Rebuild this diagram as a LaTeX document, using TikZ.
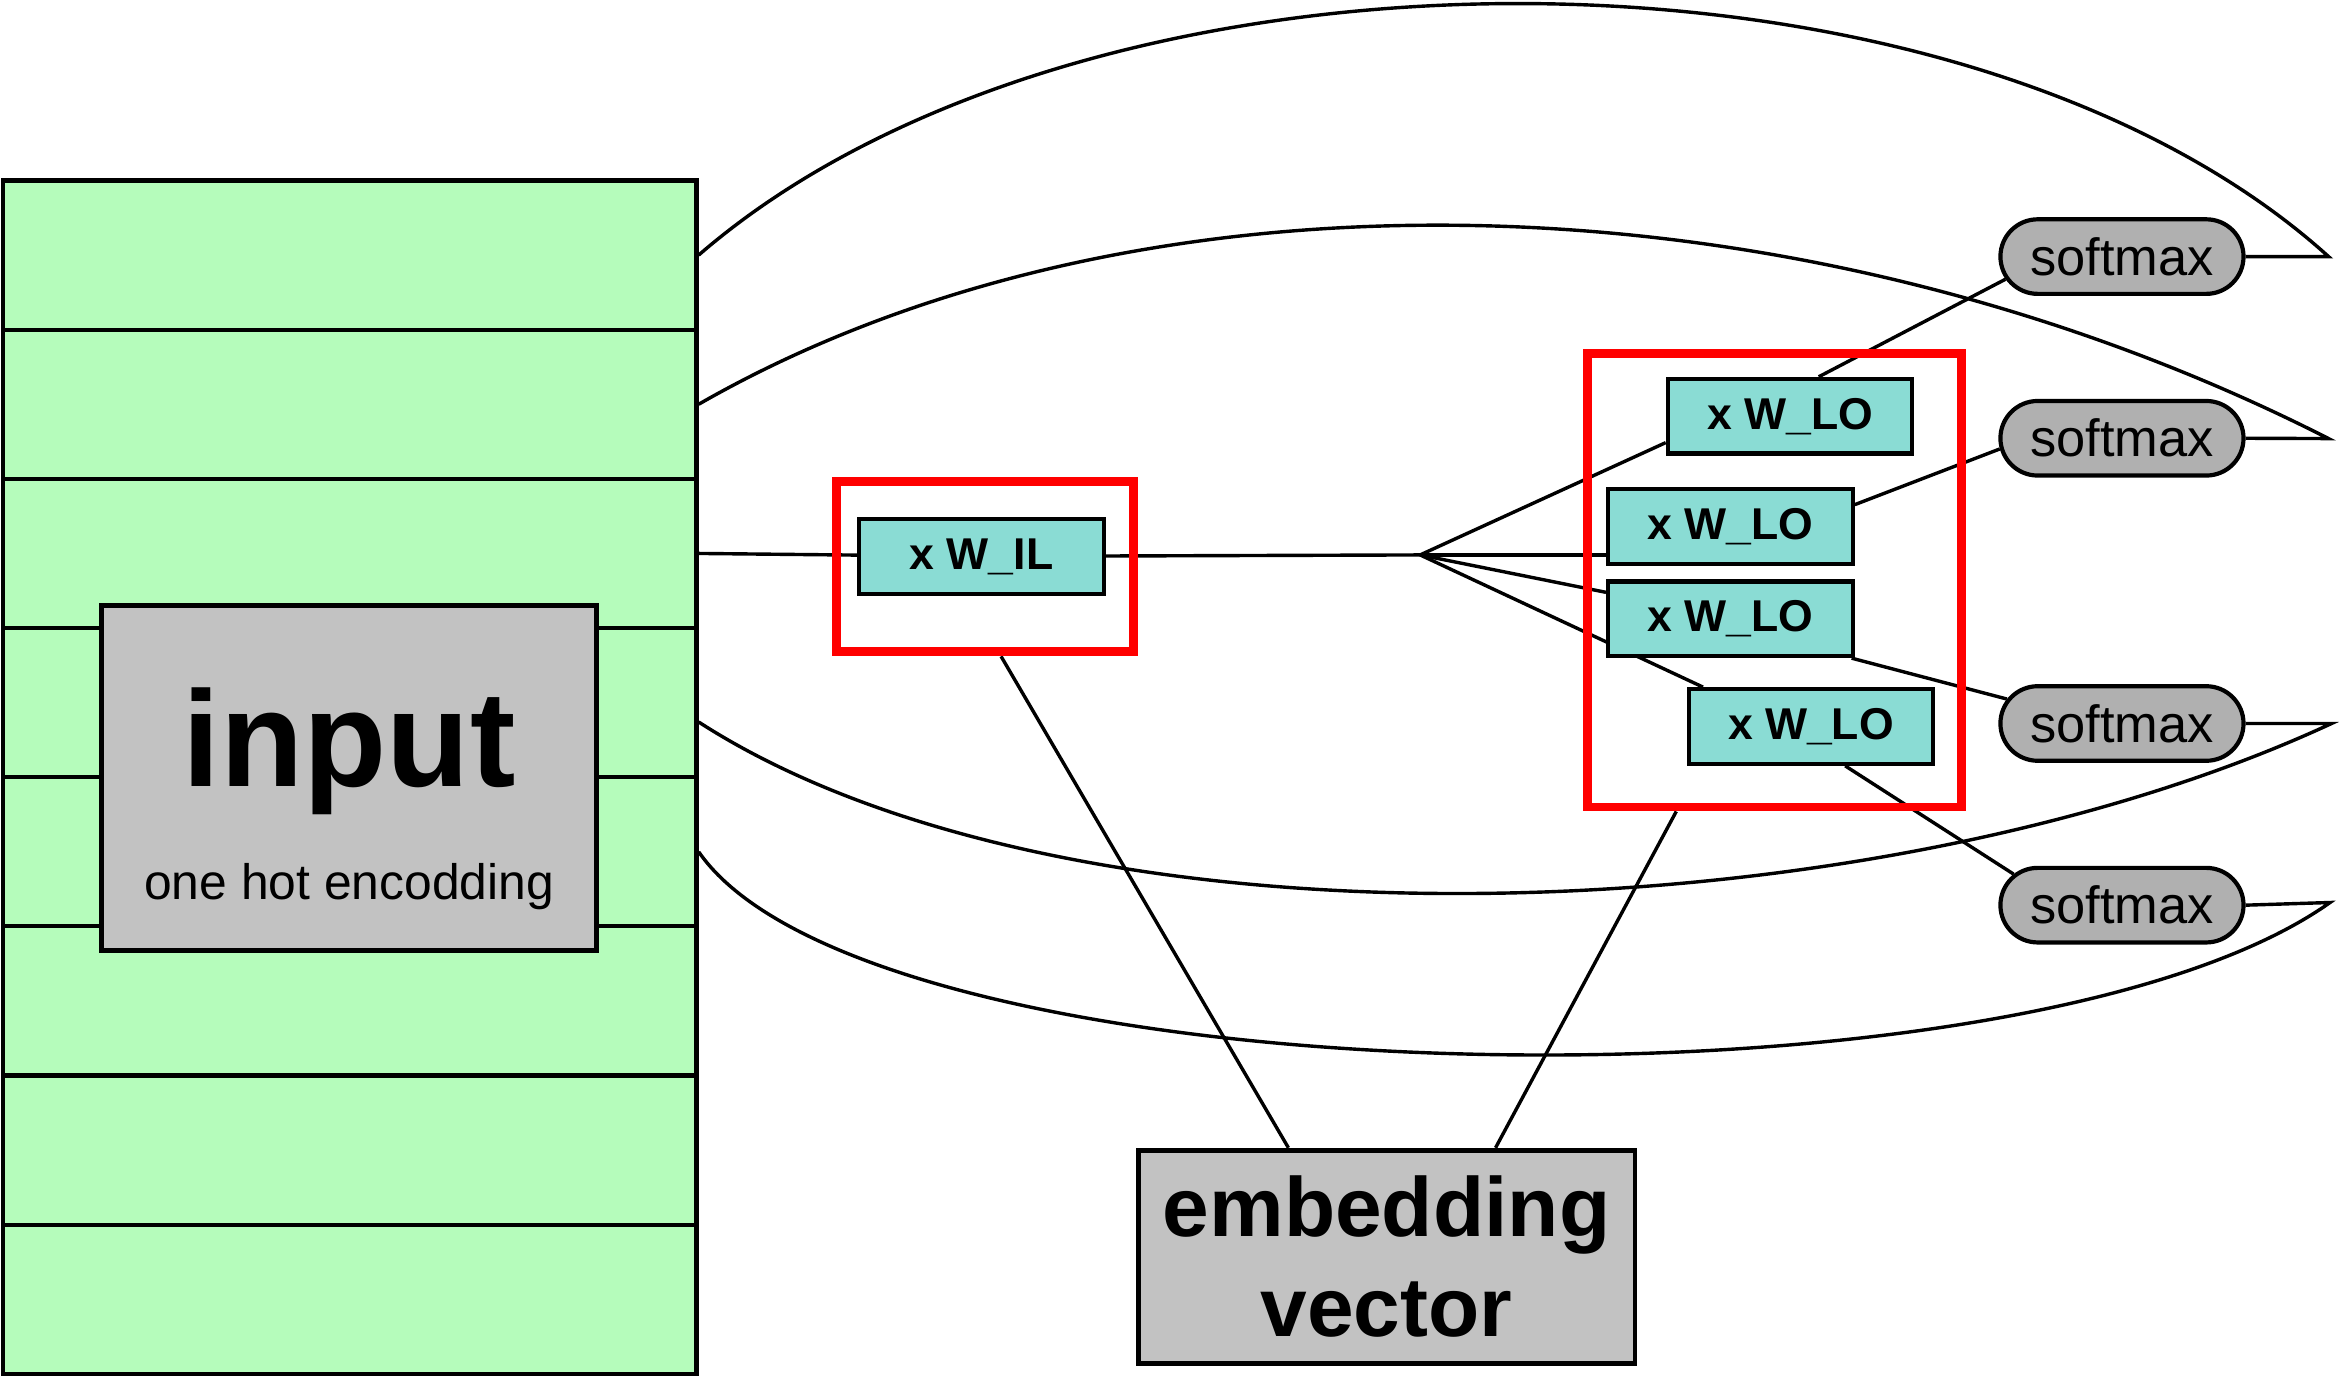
\documentclass[tikz,border=0pt]{standalone}
\usepackage{fontspec}
\setmainfont{Liberation Sans}
\usetikzlibrary{shapes}
\usetikzlibrary{calc,positioning,backgrounds}
\definecolor{cellgreen}{RGB}{181,252,187}
\definecolor{boxgray}{RGB}{194,194,194}
\definecolor{multeal}{RGB}{138,220,212}
\definecolor{softgray}{RGB}{176,176,176}
\tikzstyle{onehot} = [rectangle,minimum width=9.3cm,minimum height=2cm,inner sep=0pt,draw=black,fill=cellgreen,line width=1.6pt]
\tikzstyle{inbox} = [rectangle,minimum width=6.64cm,minimum height=4.62cm,inner sep=0pt,draw=black,fill=boxgray,line width=1.8pt]
\tikzstyle{mulbox} = [rectangle,minimum width=3.28cm,minimum height=1cm,inner sep=0pt,draw=black,fill=multeal,line width=1.6pt,font=\fontsize{17pt}{20pt}\selectfont\bfseries]
\tikzstyle{softbox} = [rounded rectangle,minimum width=3.26cm,minimum height=1cm,inner sep=0pt,draw=black,fill=softgray,line width=1.6pt,font=\fontsize{20pt}{24pt}\selectfont]
\tikzstyle{embbox} = [rectangle,minimum width=6.66cm,minimum height=2.86cm,inner sep=0pt,align=center,draw=black,fill=boxgray,line width=1.8pt,font=\fontsize{32pt}{38pt}\selectfont\bfseries]
\tikzstyle{selbox} = [rectangle,inner sep=0pt,draw=red,line width=3.4pt]
\tikzstyle{wire} = [draw=black,line width=1.3pt]

\begin{document}
\begin{tikzpicture}[x=0.02cm,y=-0.02cm]
\useasboundingbox (0,0) rectangle (1568,924);

% one hot column
\foreach \i in {1,...,8}
{
  \node (row\i) [onehot] at (234.5,{71+100*\i}) {};
}
\node (inp) [inbox] at (234,521.5) {};
\node (inptitle) [anchor=base,font=\fontsize{52pt}{56pt}\selectfont\bfseries] at (234,527) {input};
\node (inpsub) [anchor=base,font=\fontsize{19pt}{22pt}\selectfont] at (234,603) {one hot encodding};

\node (wil) [mulbox] at (658,373) {x W\_IL};
\node (lo1) [mulbox] at (1200,279) {x W\_LO};
\node (lo2) [mulbox] at (1160,353) {x W\_LO};
\node (lo3) [mulbox,below=0.18cm of lo2] {x W\_LO};
\node (lo4) [mulbox] at (1214,487) {x W\_LO};

\node (sm1) [softbox] at (1422.5,172) {softmax};
\node (sm2) [softbox,below=1.38cm of sm1] {softmax};
\node (sm3) [softbox] at (1422.5,485) {softmax};
\node (sm4) [softbox,below=1.38cm of sm3] {softmax};

\node (emb) [embbox] at (929.5,842.5) {embedding\\vector};

\node (redIL) [selbox,minimum width=3.98cm,minimum height=2.28cm] at (660.5,380) {};
\node (redLO) [selbox,minimum width=5.02cm,minimum height=6.08cm] at (1189.5,389) {};

\coordinate (fan) at (952,372);
\coordinate (tip1) at (1561,172);
\coordinate (tip2) at (1561,294);
\coordinate (tip3) at (1563,485);
\coordinate (tip4) at (1562,605);

\begin{scope}[on background layer]
\draw[wire] (row3.east) -- (wil) -- (fan);
\draw[wire] (fan) -- (lo1.192);
\draw[wire] (fan) -- (fan -| lo2.west);
\draw[wire] (fan) -- (lo3.168);
\draw[wire] (fan) -- ($(lo4.north west)+(11,0)$);

\draw[wire] (lo1.54) -- (sm1.191);
\draw[wire] (lo2.10) -- (sm2.185);
\draw[wire] (lo3.-18) -- (sm3.168);
\draw[wire] (lo4.-49) -- (sm4.164);

\draw[wire] (sm1.east) -- (tip1) .. controls (1311,-54) and (728,-54) .. (row1.east);
\draw[wire] (sm2.east) -- (tip2) .. controls (1205,113) and (763,102) .. (row2.east);
\draw[wire] (sm3.east) -- (tip3) .. controls (1257,627) and (721,647) .. ($(row4.east)+(0,13)$);
\draw[wire] (sm4.east) -- (tip4) .. controls (1352,754) and (584,738) .. (row5.east);

\draw[wire] (redIL.280) -- (emb.132);
\draw[wire] (redLO.247) -- (emb.45);
\end{scope}

\end{tikzpicture}
\end{document}
